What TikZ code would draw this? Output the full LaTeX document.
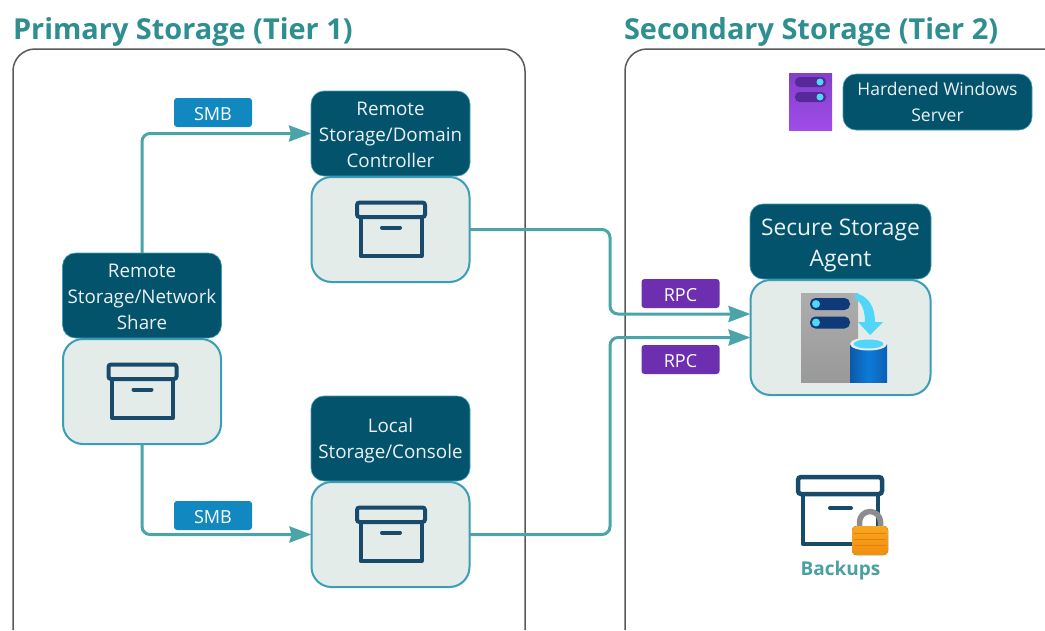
\documentclass[tikz,border=0pt]{standalone}
\usepackage{fontspec}
\setmainfont{Open Sans}
\usetikzlibrary{arrows.meta,calc}
\definecolor{labelc}{HTML}{04536C}
\definecolor{boxfill}{HTML}{E4ECEA}
\definecolor{boxline}{HTML}{3C9DB5}
\definecolor{linkc}{HTML}{4BA5A8}
\definecolor{titlec}{HTML}{2F8F90}
\definecolor{backc}{HTML}{4BA0A2}
\definecolor{smbc}{HTML}{1189C0}
\definecolor{rpcc}{HTML}{6D2FB0}
\definecolor{iconc}{HTML}{174A6B}
\definecolor{srvtop}{HTML}{8240C8}
\definecolor{srvbot}{HTML}{A04CEA}
\definecolor{srvpill}{HTML}{56289A}
\definecolor{cyanc}{HTML}{50D6F8}
\definecolor{pillc}{HTML}{0F3A7A}
\definecolor{cylL}{HTML}{0A5AA8}
\definecolor{cylM}{HTML}{0E7AD8}
\definecolor{cylR}{HTML}{0C5FB4}
\definecolor{locka}{HTML}{F7A81E}
\definecolor{lockb}{HTML}{EE8F10}
\newcommand{\lift}[1]{\rule{0pt}{#1pt}}
\tikzset{
  every node/.style={inner sep=0pt,outer sep=0pt},
  labelbox/.style={fill=labelc,draw=boxline,line width=0.6pt,rounded corners=13pt,text=white!92!labelc,align=center,font=\fontsize{18.8}{26}\selectfont,minimum width=159pt,minimum height=85pt},
  storebox/.style={fill=boxfill,draw=boxline,line width=2pt,rounded corners=20pt,minimum width=158pt,minimum height=105pt},
  tagbox/.style={rounded corners=3pt,text=white,font=\fontsize{18}{22}\selectfont,minimum width=78pt,minimum height=29pt},
  title/.style={anchor=base west,text=titlec,font=\fontsize{28.9}{34}\selectfont\bfseries},
  panel/.style={draw=black!65,line width=1.5pt,rounded corners=22pt},
  link/.style={draw=linkc,line width=3pt,rounded corners=8pt,-{Stealth[length=22pt,width=16pt,inset=2pt]}},
  archive/.pic={
    \draw[iconc,line width=4pt,line join=round] (-30.5,-13) rectangle (30.5,27);
    \draw[iconc,fill=boxfill,line width=4pt,rounded corners=2.5pt] (-34,-26.5) rectangle (34,-12);
    \draw[iconc,line width=4pt,line cap=round] (-9,-1.5) -- (9,-1.5);
  },
}
\begin{document}
\begin{tikzpicture}[x=1pt,y=-1pt]
\useasboundingbox[fill=white] (0,0) rectangle (1045,630);
% panels
\draw[panel] (13,630) -- (13,49) -- (525,49) -- (525,630);
\draw[panel] (625,630) -- (625,49) -- (1060,49);
\node[title] (t1) at (13,39) {Primary Storage (Tier 1)};
\node[title] (t2) at (624,39) {Secondary Storage (Tier 2)};
% store boxes
\node[storebox] (netb) at (142,391.5) {};
\node[storebox] (domb) at (390.5,229.5) {};
\node[storebox] (locb) at (390.5,534.5) {};
\node[storebox,minimum width=180pt,minimum height=115pt] (agb) at (840.5,337.5) {};
% labels
\node[labelbox] (netl) at (142,295.5) {\lift{17}Remote\\Storage/Network\\Share};
\node[labelbox] (doml) at (390.5,133.5) {\lift{17}Remote\\Storage/Domain\\Controller};
\node[labelbox] (locl) at (390.5,438.5) {\lift{18}Local\\Storage/Console};
\node[labelbox,minimum width=181pt,minimum height=75pt,font=\fontsize{22.8}{31}\selectfont] (agl) at (840.5,241.5) {\lift{25}Secure Storage\\Agent};
\node[labelbox,minimum width=189pt,minimum height=56pt,font=\fontsize{17.5}{26}\selectfont] (hwl) at (937.5,102) {Hardened Windows\\Server};
% connectors
\coordinate (agin) at ($(agb.west)+(0,-23.5)$);
\draw[link] (netl.north) |- (doml.west);
\draw[link] (netb.south) |- (locb.west);
\draw[link] (domb.east) -- (610,229.5) |- (agin);
\draw[link] (locb.east) -- (610,534.5) |- (agb.west);
% tags
\node[tagbox,fill=smbc] (s1) at (213,112.5) {\lift{17}SMB};
\node[tagbox,fill=smbc] (s2) at (213,515.5) {\lift{17}SMB};
\node[tagbox,fill=rpcc] (r1) at (680.5,293.5) {\lift{17}RPC};
\node[tagbox,fill=rpcc] (r2) at (680.5,359.5) {\lift{17}RPC};
% archive icons
\pic at (142.5,391) {archive};
\pic at (391,229) {archive};
\pic at (391,534) {archive};
% purple server
\shade[top color=srvtop,bottom color=srvbot] (789,73) rectangle (832,130);
\foreach \yy in {82,97}{
  \fill[srvpill,rounded corners=4.5pt] (795,\yy-5) rectangle (826,\yy+5);
  \fill[cyanc] (820,\yy) circle (3.5);
}
% secure agent icon
\shade[top color=black!32,bottom color=black!40] (801,293) rectangle (858,382);
\foreach \yy in {304,322.5}{
  \fill[pillc,rounded corners=5.5pt] (810,\yy-6) rectangle (850,\yy+6);
  \fill[cyanc] (816,\yy) circle (4);
}
\fill[cyanc] (855,293) .. controls (868,296) and (875,306) .. (875,322)
  -- (883,322) -- (870,335) -- (858,322) -- (865,322) .. controls (865,311) and (862,302) .. (855,299) -- cycle;
\fill[left color=cylL,right color=cylR,middle color=cylM] (850,344) -- (850,382) -- (887,382) -- (887,344) -- cycle;
\fill[black!8] (868.5,344) ellipse (18.5 and 6.5);
\fill[cyanc] (868.5,344) ellipse (15 and 4.5);
% backups icon
\draw[iconc,line width=4.5pt,line join=round] (803,495) -- (803,544) -- (878,544) -- (878,495);
\draw[iconc,fill=white,line width=4.5pt,rounded corners=3pt] (798,477) rectangle (882,494);
\draw[iconc,line width=4pt,line cap=round] (830,508) -- (851,508);
\draw[black!45,line width=5.5pt] (859.5,530) -- (859.5,522) arc[start angle=180,end angle=360,radius=10.5] -- (880.5,530);
\fill[top color=locka,bottom color=lockb,rounded corners=4pt] (852,526) rectangle (888,555);
\foreach \yy in {533,539,545}{\draw[lockb!85!red,line width=0.7pt] (854,\yy) -- (886,\yy);}
\node[font=\fontsize{19}{22}\selectfont\bfseries,text=backc] (bk) at (840.5,571) {Backups};
\end{tikzpicture}
\end{document}
